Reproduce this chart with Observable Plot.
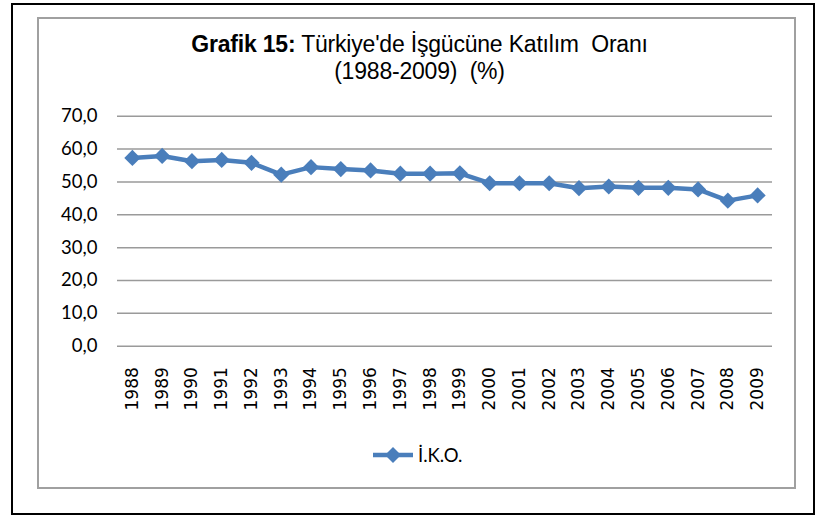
<!DOCTYPE html>
<html><head><meta charset="utf-8">
<script src="https://cdn.jsdelivr.net/npm/d3@7"></script>
<script src="https://cdn.jsdelivr.net/npm/@observablehq/plot@0.6"></script>
<style>
body{margin:0;background:#fff;}
#wrap{position:relative;width:819px;height:516px;overflow:hidden;background:#fff;}
#outer{position:absolute;left:11px;top:3px;width:804px;height:512px;box-sizing:border-box;border:2px solid #000;}
#inner{position:absolute;left:37px;top:17px;width:759px;height:472px;box-sizing:border-box;border:2px solid #a0a0a0;}
#title{position:absolute;left:10px;width:819px;top:31px;text-align:center;font-family:"Liberation Sans",Arial,sans-serif;font-size:23px;line-height:27px;color:#000;letter-spacing:-0.2px;}
#chart{position:absolute;left:0;top:100px;}
#legend{position:absolute;left:372px;top:444px;height:22px;display:flex;align-items:center;font-family:Lato,sans-serif;font-size:18.5px;color:#000;}
#legend svg{display:block;margin-right:4px;}
</style></head>
<body>
<div id="wrap">
  <div id="outer"></div>
  <div id="inner"></div>
  <div id="title"><b>Grafik 15:</b> Türkiye'de İşgücüne Katılım&nbsp; Oranı<br>(1988-2009)&nbsp; (%)</div>
  <div id="chart"></div>
  <div id="legend"></div>
</div>
<script>
const years = ["1988","1989","1990","1991","1992","1993","1994","1995","1996","1997","1998","1999","2000","2001","2002","2003","2004","2005","2006","2007","2008","2009"];
const ikoValues = [57.3,57.9,56.3,56.7,55.8,52.2,54.5,53.9,53.5,52.5,52.5,52.6,49.6,49.6,49.6,48.1,48.6,48.2,48.2,47.7,44.3,45.9];
const yTicks = [0,10,20,30,40,50,60,70];
const seriesName = "İ.K.O.";
const lineColor = "#4A7EBB";

const data = years.map((y,i)=>({year:y, value:ikoValues[i]}));

const chart = Plot.plot({
  width:819, height:330,
  marginLeft:117, marginRight:47, marginTop:15.7, marginBottom:84.3,
  style:{background:"transparent", color:"#000"},
  x:{type:"point", domain:years, padding:0.5, round:false},
  y:{domain:[0,70]},
  marks:[
    Plot.ruleY(yTicks, {stroke:"#9a9a9a", strokeWidth:1.5}),
    Plot.axisY(yTicks, {tickSize:0, tickPadding:20, tickFormat:d=>d.toFixed(1).replace(".",","), fontFamily:"Lato", fontSize:18.5, label:null}),
    Plot.axisX({tickRotate:-90, tickSize:0, tickPadding:21, fontFamily:"DejaVu Sans", fontSize:17, label:null}),
    Plot.line(data, {x:"year", y:"value", stroke:lineColor, strokeWidth:4.5}),
    Plot.dot(data, {x:"year", y:"value", symbol:"diamond2", r:7.3, fill:lineColor, stroke:"none"})
  ]
});
document.getElementById("chart").appendChild(chart);

const lg = document.getElementById("legend");
lg.innerHTML = `<svg width="42" height="22"><line x1="1" y1="11" x2="41" y2="11" stroke="${lineColor}" stroke-width="4.5"/><path d="M21,3 L29,11 L21,19 L13,11Z" fill="${lineColor}"/></svg><span>${seriesName}</span>`;
</script>
</body></html>
